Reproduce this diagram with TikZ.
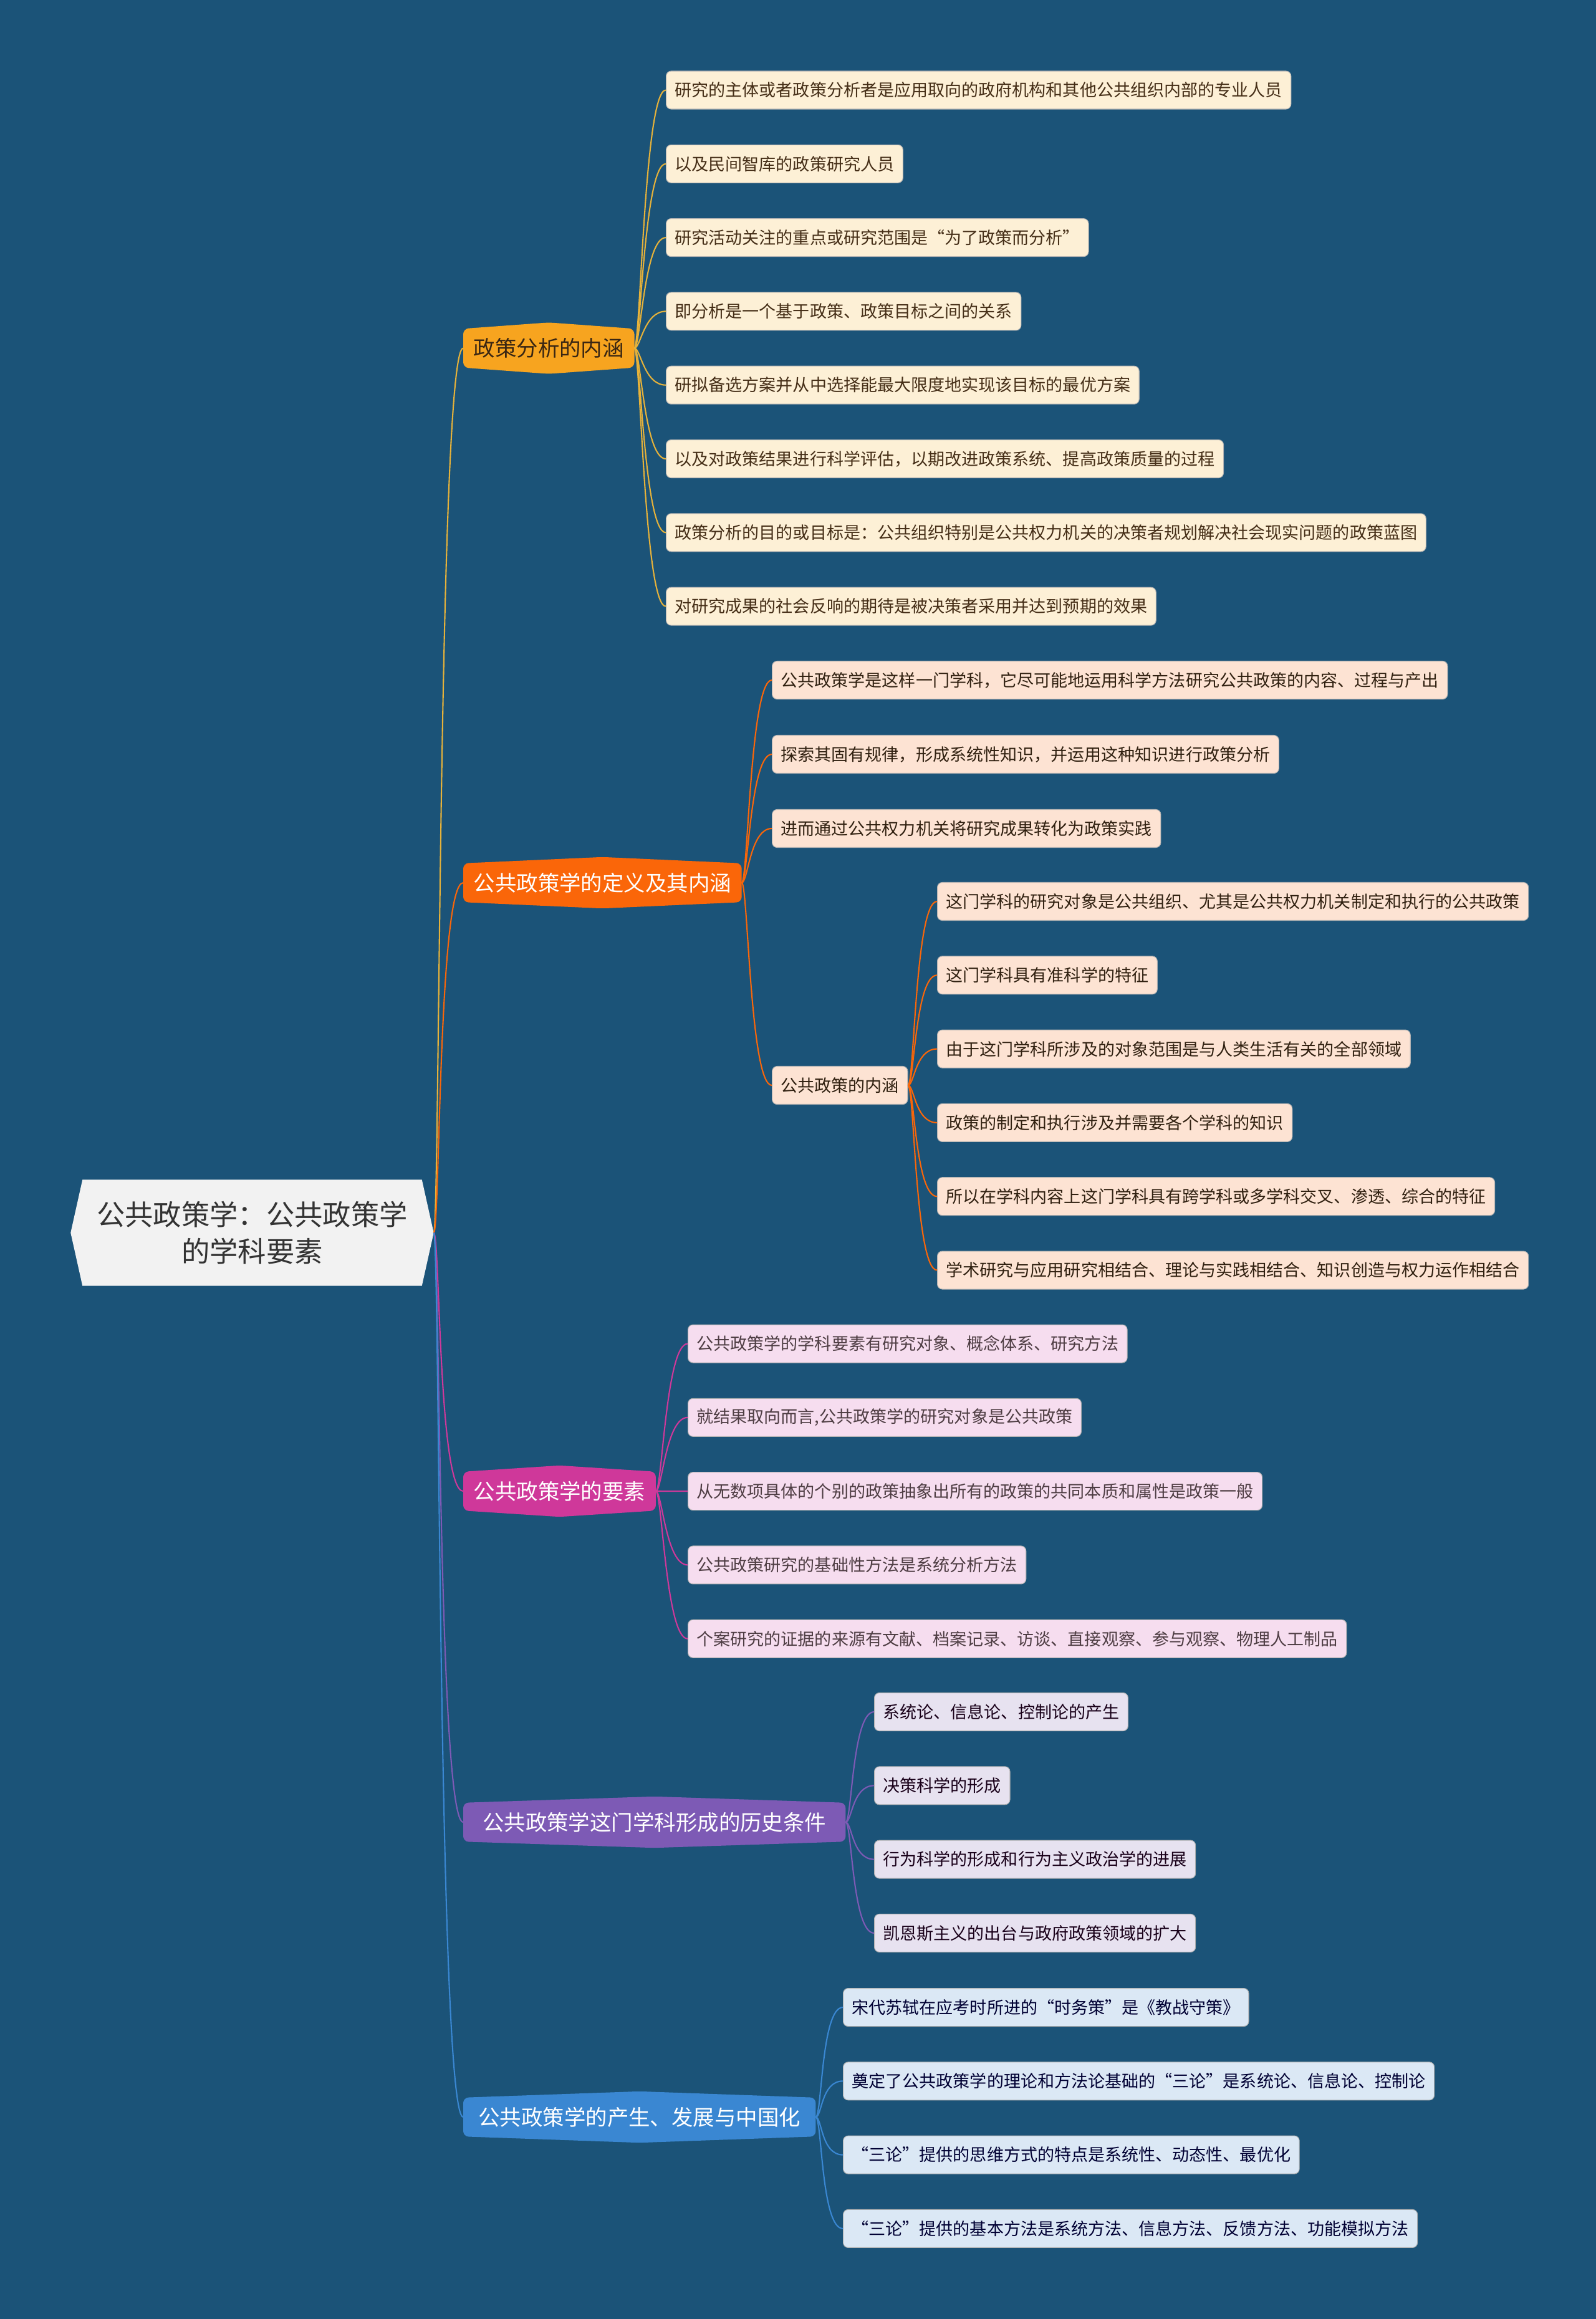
\documentclass[tikz,border=0pt]{standalone}
\usepackage{fontspec}
\setmainfont{Noto Sans CJK SC}
\usetikzlibrary{backgrounds}

\definecolor{bgblue}{HTML}{1B5378}
\definecolor{rootfill}{HTML}{F2F2F2}
\definecolor{bra}{HTML}{F7A41F}
\definecolor{brb}{HTML}{FA6609}
\definecolor{brc}{HTML}{CF389A}
\definecolor{brd}{HTML}{7D5AB5}
\definecolor{bre}{HTML}{3A87D2}
\definecolor{lfa}{HTML}{FDF0D6}
\definecolor{lfb}{HTML}{FDE3D3}
\definecolor{lfc}{HTML}{F6DDEF}
\definecolor{lfd}{HTML}{E7E2F0}
\definecolor{lfe}{HTML}{DBE8F5}
\definecolor{lna}{HTML}{E6B23A}

\tikzset{
    leaf/.style={rounded corners=0.08cm, minimum height=0.61cm, inner xsep=0.14cm,
        inner ysep=0pt, anchor=west, draw=white!70!black, line width=0.3pt,
        font=\fontsize{7.7}{9}\selectfont},
    leafa/.style={leaf, fill=lfa, text=black!60!brown!90!black},
    leafb/.style={leaf, fill=lfb, text=black!75!brown},
    leafc/.style={leaf, fill=lfc, text=black!80!magenta},
    leafd/.style={leaf, fill=lfd, text=black!80!violet},
    leafe/.style={leaf, fill=lfe, text=black!80!blue},
    branch/.style={minimum height=0.61cm, inner xsep=0.16cm, inner ysep=0pt, anchor=west,
        text=white, font=\fontsize{9.8}{12}\selectfont},
    link/.style={line width=0.6pt},
}

\begin{document}
\begin{tikzpicture}
    \begin{scope}[on background layer]
        \fill[bgblue] (0,0) rectangle (25.6,-37.2);
    \end{scope}
    \useasboundingbox (0,0) rectangle (25.6,-37.2);

    % root and main branches
    \node[minimum width=5.81cm, minimum height=1.69cm, inner sep=0pt, align=center,
        text=black!80, font=\fontsize{12.9}{17}\selectfont] (root) at (4.045,-19.775)
        {公共政策学：公共政策学\\的学科要素};
    \node[branch, text=black!70!brown] (b1) at (7.43,-5.585) {政策分析的内涵};
    \node[branch] (b2) at (7.43,-14.16) {公共政策学的定义及其内涵};
    \node[branch] (b3) at (7.43,-23.92) {公共政策学的要素};
    \node[branch, minimum width=6.12cm] (b4) at (7.43,-29.23) {公共政策学这门学科形成的历史条件};
    \node[branch, minimum width=5.64cm] (b5) at (7.43,-33.96) {公共政策学的产生、发展与中国化};

    \begin{scope}[on background layer]
        \fill[rootfill] ([xshift=0.19cm]root.north west) -- ([xshift=-0.19cm]root.north east)
            -- (root.east) -- ([xshift=-0.19cm]root.south east)
            -- ([xshift=0.19cm]root.south west) -- (root.west) -- cycle;
        \foreach \b/\c in {b1/bra,b2/brb,b3/brc,b4/brd,b5/bre} {
            \fill[\c, rounded corners=2.5pt] (\b.north west) -- ([yshift=0.1cm]\b.north)
                -- (\b.north east) -- (\b.south east) -- ([yshift=-0.1cm]\b.south)
                -- (\b.south west) -- cycle;
        }
    \end{scope}

    \foreach \b/\c in {b1/lna,b2/brb,b3/brc,b4/brd,b5/bre} {
        \draw[link, \c] (root.east) .. controls +(0.1,0) and +(-0.4,0) .. (\b.west);
    }

    % 政策分析的内涵
    \foreach \t [count=\i] in {
        研究的主体或者政策分析者是应用取向的政府机构和其他公共组织内部的专业人员,
        以及民间智库的政策研究人员,
        研究活动关注的重点或研究范围是“为了政策而分析”,
        即分析是一个基于政策、政策目标之间的关系,
        研拟备选方案并从中选择能最大限度地实现该目标的最优方案,
        以及对政策结果进行科学评估，以期改进政策系统、提高政策质量的过程,
        政策分析的目的或目标是：公共组织特别是公共权力机关的决策者规划解决社会现实问题的政策蓝图,
        对研究成果的社会反响的期待是被决策者采用并达到预期的效果} {
        \node[leafa] (a\i) at (10.68,{-1.445-1.183*(\i-1)}) {\t};
        \draw[link, lna] (b1.east) .. controls +(0.1,0) and +(-0.35,0) .. (a\i.west);
    }

    % 定义及其内涵
    \foreach \t [count=\i] in {
        公共政策学是这样一门学科，它尽可能地运用科学方法研究公共政策的内容、过程与产出,
        探索其固有规律，形成系统性知识，并运用这种知识进行政策分析,
        进而通过公共权力机关将研究成果转化为政策实践} {
        \node[leafb] (c\i) at (12.38,{-10.91-1.19*(\i-1)}) {\t};
        \draw[link, brb] (b2.east) .. controls +(0.1,0) and +(-0.35,0) .. (c\i.west);
    }
    \node[leafb] (c4) at (12.38,-17.41) {公共政策的内涵};
    \draw[link, brb] (b2.east) .. controls +(0.1,0) and +(-0.35,0) .. (c4.west);
    \foreach \t [count=\i] in {
        这门学科的研究对象是公共组织、尤其是公共权力机关制定和执行的公共政策,
        这门学科具有准科学的特征,
        由于这门学科所涉及的对象范围是与人类生活有关的全部领域,
        政策的制定和执行涉及并需要各个学科的知识,
        所以在学科内容上这门学科具有跨学科或多学科交叉、渗透、综合的特征,
        学术研究与应用研究相结合、理论与实践相结合、知识创造与权力运作相结合} {
        \node[leafb] (d\i) at (15.03,{-14.46-1.183*(\i-1)}) {\t};
        \draw[link, brb] (c4.east) .. controls +(0.1,0) and +(-0.35,0) .. (d\i.west);
    }

    % 要素
    \foreach \t [count=\i] in {
        公共政策学的学科要素有研究对象、概念体系、研究方法,
        {就结果取向而言,公共政策学的研究对象是公共政策},
        从无数项具体的个别的政策抽象出所有的政策的共同本质和属性是政策一般,
        公共政策研究的基础性方法是系统分析方法,
        个案研究的证据的来源有文献、档案记录、访谈、直接观察、参与观察、物理人工制品} {
        \node[leafc] (e\i) at (11.03,{-21.555-1.183*(\i-1)}) {\t};
        \draw[link, brc] (b3.east) .. controls +(0.1,0) and +(-0.35,0) .. (e\i.west);
    }

    % 历史条件
    \foreach \t [count=\i] in {
        系统论、信息论、控制论的产生,
        决策科学的形成,
        行为科学的形成和行为主义政治学的进展,
        凯恩斯主义的出台与政府政策领域的扩大} {
        \node[leafd] (f\i) at (14.02,{-27.46-1.183*(\i-1)}) {\t};
        \draw[link, brd] (b4.east) .. controls +(0.1,0) and +(-0.35,0) .. (f\i.west);
    }

    % 产生、发展与中国化
    \foreach \t [count=\i] in {
        宋代苏轼在应考时所进的“时务策”是《教战守策》,
        奠定了公共政策学的理论和方法论基础的“三论”是系统论、信息论、控制论,
        “三论”提供的思维方式的特点是系统性、动态性、最优化,
        “三论”提供的基本方法是系统方法、信息方法、反馈方法、功能模拟方法} {
        \node[leafe] (g\i) at (13.52,{-32.20-1.183*(\i-1)}) {\t};
        \draw[link, bre] (b5.east) .. controls +(0.1,0) and +(-0.35,0) .. (g\i.west);
    }
\end{tikzpicture}
\end{document}
